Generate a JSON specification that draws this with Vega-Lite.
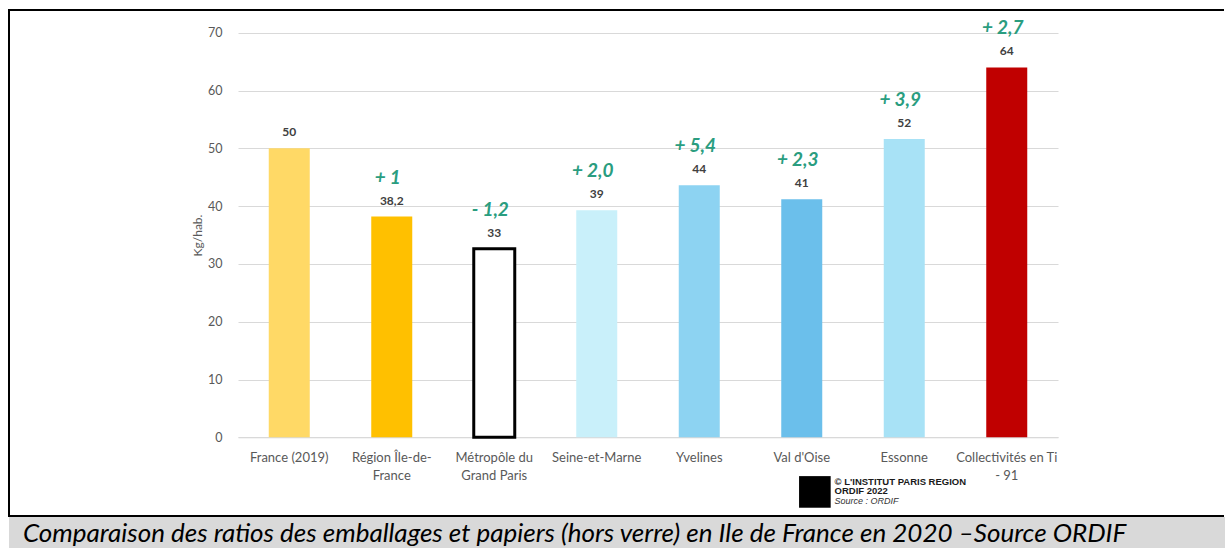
{
  "$schema": "https://vega.github.io/schema/vega-lite/v6.json",
  "background": "white",
  "padding": {"left": 8, "top": 9, "right": 0, "bottom": 0},
  "spacing": 0,
  "config": {
    "font": "Lato",
    "axis": {"labelFont": "Lato", "titleFont": "Lato"},
    "text": {"font": "Lato"}
  },
  "vconcat": [
    {
      "width": 1215,
      "height": 506,
      "view": {"fill": "white", "stroke": "black", "strokeWidth": 2, "strokeDash": [1215, 506, 1722, 100]},
      "data": {
        "values": [
          {"cat": "France (2019)", "value": 50, "label": "50", "evolution": ""},
          {"cat": "Région Île-de-France", "value": 38.2, "label": "38,2", "evolution": "+ 1"},
          {"cat": "Métropôle du Grand Paris", "value": 32.6, "label": "33", "evolution": "- 1,2"},
          {"cat": "Seine-et-Marne", "value": 39.3, "label": "39", "evolution": "+ 2,0"},
          {"cat": "Yvelines", "value": 43.6, "label": "44", "evolution": "+ 5,4"},
          {"cat": "Val d'Oise", "value": 41.2, "label": "41", "evolution": "+ 2,3"},
          {"cat": "Essonne", "value": 51.6, "label": "52", "evolution": "+ 3,9"},
          {"cat": "Collectivités en Ti - 91", "value": 64, "label": "64", "evolution": "+ 2,7"}
        ]
      },
      "encoding": {
        "x": {
          "field": "cat",
          "type": "nominal",
          "sort": null,
          "scale": {"range": [229, 1049], "paddingInner": 0.6, "paddingOuter": 0.3},
          "axis": {
            "orient": "bottom",
            "offset": -78.7,
            "title": null,
            "labelAngle": 0,
            "ticks": false,
            "domainColor": "#D9D9D9",
            "domainWidth": 1,
            "labelPadding": 14,
            "labelFontSize": 13,
            "labelColor": "#595959",
            "labelLineHeight": 18,
            "labelOverlap": false,
            "labelExpr": "datum.label == 'Région Île-de-France' ? ['Région Île-de-', 'France'] : datum.label == 'Métropôle du Grand Paris' ? ['Métropôle du', 'Grand Paris'] : datum.label == 'Collectivités en Ti - 91' ? ['Collectivités en Ti', '- 91'] : datum.label"
          }
        },
        "y": {
          "field": "value",
          "type": "quantitative",
          "scale": {"domain": [0, 70], "range": [427.3, 22.7], "nice": false, "zero": true},
          "axis": {
            "offset": -229,
            "values": [0, 10, 20, 30, 40, 50, 60, 70],
            "ticks": false,
            "tickSize": 0,
            "domain": false,
            "grid": true,
            "gridColor": "#D9D9D9",
            "gridWidth": 1,
            "labelPadding": 16,
            "labelFontSize": 12.5,
            "labelColor": "#595959",
            "title": "Kg/hab.",
            "titleFontSize": 12,
            "titleFontWeight": "normal",
            "titleColor": "#595959",
            "titlePadding": 3
          }
        }
      },
      "layer": [
        {
          "mark": {"type": "bar", "strokeWidth": 3},
          "encoding": {
            "fill": {
              "field": "cat",
              "type": "nominal",
              "legend": null,
              "scale": {
                "domain": ["France (2019)", "Région Île-de-France", "Métropôle du Grand Paris", "Seine-et-Marne", "Yvelines", "Val d'Oise", "Essonne", "Collectivités en Ti - 91"],
                "range": ["#FFD966", "#FFC000", "#FFFFFF", "#C9F0FA", "#8DD3F2", "#6BBFEB", "#A8E2F6", "#C00000"]
              }
            },
            "stroke": {
              "condition": {"test": "datum.cat === 'Métropôle du Grand Paris'", "value": "#000000"},
              "value": null
            }
          }
        },
        {
          "mark": {"type": "text", "dy": -16, "baseline": "middle", "fontWeight": "bold", "fontSize": 12, "color": "#404040"},
          "encoding": {"text": {"field": "label"}}
        },
        {
          "mark": {"type": "text", "dy": -39, "dx": -4, "baseline": "middle", "fontWeight": "bold", "fontStyle": "italic", "fontSize": 19, "color": "#2A9D7F"},
          "encoding": {"text": {"field": "evolution"}}
        },
        {
          "data": {"values": [{"logo": "L'INSTITUT PARIS REGION", "v": -9.45}]},
          "mark": {"type": "square", "size": 1000, "filled": true, "color": "#000000", "opacity": 1},
          "encoding": {
            "x": {"datum": "Val d'Oise", "bandPosition": 0.82},
            "y": {"field": "v", "type": "quantitative"}
          }
        },
        {
          "data": {"values": [{"t": "© L'INSTITUT PARIS REGION", "v": -7.7}, {"t": "ORDIF 2022", "v": -9.35}]},
          "mark": {"type": "text", "align": "left", "baseline": "middle", "font": "Liberation Sans", "fontWeight": "bold", "fontSize": 9.5, "color": "#1A1A1A"},
          "encoding": {
            "x": {"datum": "Val d'Oise", "bandPosition": 1.3},
            "y": {"field": "v", "type": "quantitative"},
            "text": {"field": "t"}
          }
        },
        {
          "data": {"values": [{"t": "Source : ORDIF", "v": -10.95}]},
          "mark": {"type": "text", "align": "left", "baseline": "middle", "font": "Liberation Sans", "fontStyle": "italic", "fontSize": 9, "color": "#333333"},
          "encoding": {
            "x": {"datum": "Val d'Oise", "bandPosition": 1.3},
            "y": {"field": "v", "type": "quantitative"},
            "text": {"field": "t"}
          }
        }
      ]
    },
    {
      "width": 1216,
      "height": 31,
      "view": {"fill": "#D9D9D9", "stroke": null},
      "data": {"values": [{"caption": "Comparaison des ratios des emballages et papiers (hors verre) en Ile de France en 2020 –Source ORDIF"}]},
      "mark": {"type": "text", "align": "left", "baseline": "middle", "dx": -594, "dy": 1, "font": "Lato", "fontStyle": "italic", "fontSize": 26, "color": "#000000"},
      "encoding": {"text": {"field": "caption"}}
    }
  ]
}
